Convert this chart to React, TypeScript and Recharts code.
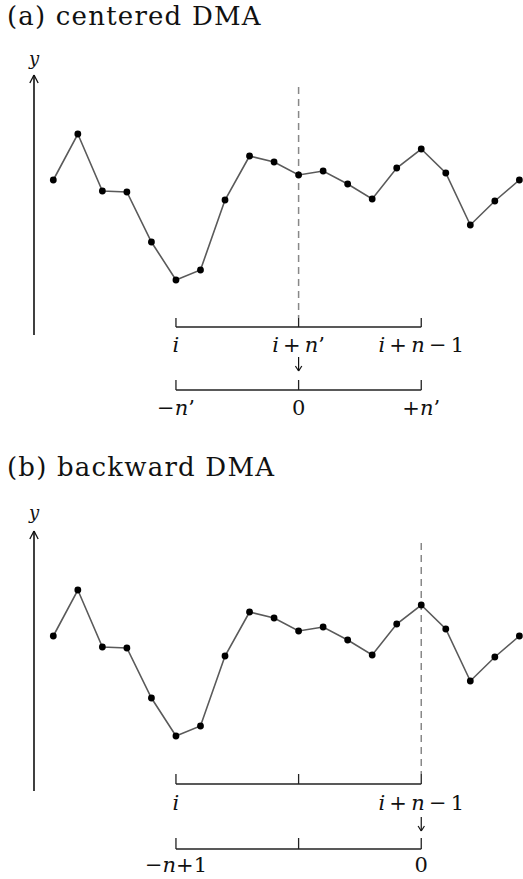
import React from 'react';
import { LineChart, Line, XAxis, YAxis, ReferenceLine, ReferenceDot } from 'recharts';

// ---- data ----
const POINT_INDEX = [0, 1, 2, 3, 4, 5, 6, 7, 8, 9, 10, 11, 12, 13, 14, 15, 16, 17, 18, 19];
const SERIES_Y = [120, 166, 109, 108, 58, 20, 30, 100, 144, 138, 125, 129, 116, 101, 132, 151, 127, 75, 99, 120];

const TITLE_A = '(a) centered DMA';
const TITLE_B = '(b) backward DMA';

// bracket tick positions (point indices)
const BRACKET_TICKS = [5, 10, 15];
// top bracket labels, bottom bracket labels
const LABELS_A_TOP = ['i', "i+n'", 'i+n−1'];
const LABELS_A_BOTTOM = ["−n'", '0', "+n'"];
const LABELS_B_TOP = ['i', '', 'i+n−1'];
const LABELS_B_BOTTOM = ['−n+1', '', '0'];
const FOCUS_A = 10;
const FOCUS_B = 15;

const rows = POINT_INDEX.map((x, k) => ({ x, y: SERIES_Y[k] }));

const W = 523;
const X_DOMAIN: [number, number] = [-2.173, 19.148];
const Y_AXIS_X = -0.787;
const SERIF = "'DejaVu Serif', serif";
const THIN = '\u2009';

// render math-ish label: letters italic, others upright, thin spaces around operators after i
function MathText({ text, x, y, size }: any) {
  const parts: { t: string; it: boolean }[] = [];
  const chars = Array.from(text as string);
  const spaced = chars[0] === 'i';
  chars.forEach((ch, idx) => {
    const it = /[a-z]/.test(ch);
    let t = ch === "'" ? '’' : ch;
    if (spaced && (ch === '+' || ch === '−') && idx > 0) t = THIN + t + THIN;
    const last = parts[parts.length - 1];
    if (last && last.it === it) last.t += t;
    else parts.push({ t, it });
  });
  return (
    <text x={x} y={y} textAnchor="middle" dominantBaseline="central" fontFamily={SERIF} fontSize={size} fill="#111">
      {parts.map((p, k) => (
        <tspan key={k} fontStyle={p.it ? 'italic' : 'normal'}>{p.t}</tspan>
      ))}
    </text>
  );
}

const makeLabel = (text: string, size: number) => (props: any) => {
  const vb = props.viewBox || {};
  const cx = (vb.x || 0) + (vb.width || 0) / 2;
  const cy = (vb.y || 0) + (vb.height || 0) / 2;
  return <MathText text={text} x={cx} y={cy} size={size} />;
};

const renderDot = (props: any) => {
  const { cx, cy, index } = props;
  if (cx == null || cy == null) return <g key={'d' + index} />;
  return <circle key={'d' + index} cx={cx} cy={cy} r={3.4} fill="#000" />;
};

function Panel({ height, focus, top, bottom, yLabelAt, tickTop, tickBottom, lblTop, arrowTop, arrowBottom, tick2Top, tick2Bottom, lbl2 }: any) {
  const yDomain: [number, number] = [300 - height, 300];
  const ah = 0.17;
  const sh = 0.13;
  return (
    <LineChart width={W} height={height} data={rows} margin={{ top: 0, right: 0, bottom: 0, left: 0 }}>
      <XAxis dataKey="x" type="number" domain={X_DOMAIN} hide allowDataOverflow />
      <YAxis type="number" domain={yDomain} hide allowDataOverflow />
      {/* y axis with arrow */}
      <ReferenceLine segment={[{ x: Y_AXIS_X, y: -35 }, { x: Y_AXIS_X, y: 225 }]} stroke="#111" strokeWidth={1.6} />
      <ReferenceLine segment={[{ x: Y_AXIS_X - ah, y: 217 }, { x: Y_AXIS_X, y: 225 }]} stroke="#111" strokeWidth={1.3} />
      <ReferenceLine segment={[{ x: Y_AXIS_X + ah, y: 217 }, { x: Y_AXIS_X, y: 225 }]} stroke="#111" strokeWidth={1.3} />
      <ReferenceDot x={Y_AXIS_X} y={yLabelAt} r={0} stroke="none" label={makeLabel('y', 18)} />
      {/* dashed focus line */}
      <ReferenceLine segment={[{ x: focus, y: 213 }, { x: focus, y: tickTop }]} stroke="#888" strokeWidth={1.5} strokeDasharray="7 5" />
      {/* top bracket */}
      <ReferenceLine segment={[{ x: BRACKET_TICKS[0], y: tickBottom }, { x: BRACKET_TICKS[2], y: tickBottom }]} stroke="#222" strokeWidth={1.3} />
      {BRACKET_TICKS.map((t) => (
        <ReferenceLine key={'t' + t} segment={[{ x: t, y: tickTop }, { x: t, y: tickBottom }]} stroke="#222" strokeWidth={1.3} />
      ))}
      {BRACKET_TICKS.map((t, k) =>
        top[k] ? <ReferenceDot key={'l' + t} x={t} y={lblTop} r={0} stroke="none" label={makeLabel(top[k], 21)} /> : null
      )}
      {/* small down arrow */}
      <ReferenceLine segment={[{ x: focus, y: arrowTop }, { x: focus, y: arrowBottom }]} stroke="#111" strokeWidth={1.2} />
      <ReferenceLine segment={[{ x: focus - sh, y: arrowBottom + 5 }, { x: focus, y: arrowBottom }]} stroke="#111" strokeWidth={1.2} />
      <ReferenceLine segment={[{ x: focus + sh, y: arrowBottom + 5 }, { x: focus, y: arrowBottom }]} stroke="#111" strokeWidth={1.2} />
      {/* bottom bracket */}
      <ReferenceLine segment={[{ x: BRACKET_TICKS[0], y: tick2Bottom }, { x: BRACKET_TICKS[2], y: tick2Bottom }]} stroke="#222" strokeWidth={1.3} />
      {BRACKET_TICKS.map((t) => (
        <ReferenceLine key={'b' + t} segment={[{ x: t, y: tick2Top }, { x: t, y: tick2Bottom }]} stroke="#222" strokeWidth={1.3} />
      ))}
      {BRACKET_TICKS.map((t, k) =>
        bottom[k] ? <ReferenceDot key={'m' + t} x={t} y={lbl2} r={0} stroke="none" label={makeLabel(bottom[k], 21)} /> : null
      )}
      <Line
        type="linear"
        dataKey="y"
        stroke="#5a5a5a"
        strokeWidth={1.6}
        dot={renderDot}
        activeDot={false}
        isAnimationActive={false}
      />
    </LineChart>
  );
}

const titleStyle: React.CSSProperties = {
  position: 'absolute',
  left: 7,
  fontFamily: SERIF,
  fontSize: 26,
  letterSpacing: 1.2,
  color: '#111',
  whiteSpace: 'nowrap',
  lineHeight: '32px',
};

export default function App() {
  return (
    <div style={{ position: 'absolute', left: 0, top: 0, width: W, height: 879, overflow: 'hidden', background: '#fff' }}>
      <div style={{ ...titleStyle, top: 0 }}>{TITLE_A}</div>
      <div style={{ ...titleStyle, top: 451 }}>{TITLE_B}</div>
      <div style={{ position: 'absolute', left: 0, top: 0 }}>
        <Panel height={440} focus={FOCUS_A} top={LABELS_A_TOP} bottom={LABELS_A_BOTTOM} yLabelAt={242}
          tickTop={-18} tickBottom={-27} lblTop={-45} arrowTop={-57} arrowBottom={-71} tick2Top={-80} tick2Bottom={-90} lbl2={-108} />
      </div>
      <div style={{ position: 'absolute', left: 0, top: 456 }}>
        <Panel height={423} focus={FOCUS_B} top={LABELS_B_TOP} bottom={LABELS_B_BOTTOM} yLabelAt={244}
          tickTop={-18} tickBottom={-28} lblTop={-47} arrowTop={-61} arrowBottom={-75} tick2Top={-82} tick2Bottom={-93} lbl2={-109} />
      </div>
    </div>
  );
}
